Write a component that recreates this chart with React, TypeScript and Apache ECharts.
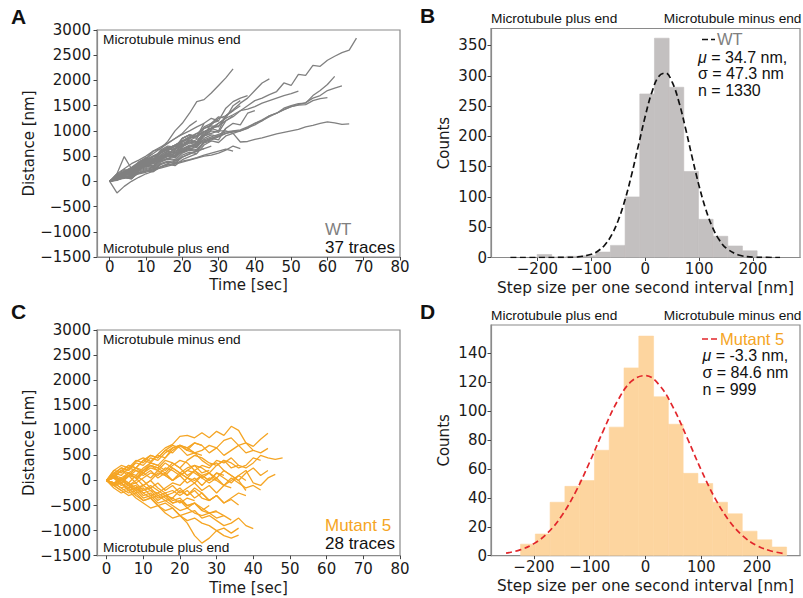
import React, { useEffect, useRef } from 'react';
import * as echarts from 'echarts';

// ---------- Data ----------
const TRACE_STEP_SEC = 2;

// Panel A: WT traces (distance in nm, sampled every TRACE_STEP_SEC seconds)
const WT_TRACES: number[][] = [
  [0, 80, 130, 220, 300, 330, 420, 480, 560, 640, 720, 800, 900, 980, 1060, 1150, 1250, 1320, 1400, 1500, 1600, 1650, 1720, 1780, 1950, 1900, 2120, 2100, 2300, 2280, 2400, 2480, 2550, 2600, 2840],
  [0, 60, 150, 250, 380, 450, 600, 650, 790, 1000, 1150, 1350, 1580, 1620, 1750, 1900, 2050, 2230],
  [0, 90, 170, 240, 350, 400, 480, 560, 650, 720, 800, 880, 950, 1050, 1120, 1250, 1300, 1420, 1550, 1650, 1800, 1950, 2030],
  [0, 60, 110, 200, 260, 300, 380, 420, 500, 560, 600, 680, 720, 780, 820, 880, 950, 980, 1000, 1050, 1150, 1200, 1300, 1350, 1450, 1500, 1540, 1550, 1700, 1800, 1920, 2080],
  [0, 70, 140, 180, 260, 320, 380, 460, 520, 600, 650, 700, 760, 820, 880, 930, 980, 1000, 1020, 1080, 1150, 1220, 1300, 1350, 1420, 1480, 1520, 1560, 1650, 1700, 1800, 1850, 1890],
  [0, 100, 180, 260, 350, 420, 500, 560, 650, 720, 780, 850, 900, 980, 1050, 1100, 1200, 1280, 1400, 1430, 1480, 1550, 1600, 1650, 1700, 1740, 1790],
  [0, 50, 120, 200, 260, 300, 380, 450, 500, 560, 620, 680, 740, 800, 850, 900, 950, 990, 1000, 1060, 1120, 1200, 1280, 1350, 1420, 1480, 1510, 1520, 1600, 1640, 1660],
  [0, 80, 150, 230, 300, 360, 420, 500, 560, 640, 700, 760, 830, 900, 950, 1000, 1000, 950, 780, 790, 830, 860, 900, 940, 970, 1000, 1030, 1080, 1110, 1150, 1180, 1160, 1130, 1140],
  [0, 100, 200, 280, 380, 450, 550, 650, 750, 850, 950, 1100, 1200],
  [0, 70, 160, 130, 330, 400, 380, 560, 650, 620, 850, 920, 880, 1150, 1250, 1200, 1450, 1580, 1650, 1700],
  [0, 90, 150, 250, 200, 400, 450, 420, 600, 700, 680, 850, 950, 900, 1150, 1280, 1250, 1500, 1600],
  [0, 50, 120, 80, 280, 330, 300, 480, 560, 520, 700, 780, 750, 950, 1050, 1000, 1300, 1400, 1500],
  [0, 120, 180, 150, 350, 420, 380, 580, 650, 620, 800, 880, 850, 1050, 1100, 1080, 1300, 1400],
  [0, 60, 140, 110, 260, 340, 300, 460, 540, 500, 680, 760, 720, 920, 1020, 1150, 1250],
  [0, 90, 180, 150, 320, 380, 350, 520, 600, 560, 750, 820, 780, 980, 1050, 1100],
  [0, 40, 60, 100, 150, 180, 230, 260, 300, 340, 380, 420, 460, 500, 520, 560, 620, 700, 650],
  [0, 20, 80, 120, 160, 200, 250, 280, 320, 360, 400, 430, 470, 520, 560, 600, 640, 600],
  [0, 100, 150, 120, 300, 380, 350, 520, 600, 570, 720, 800, 770, 900, 950],
  [0, 130, 230, 200, 380, 470, 430, 620, 700, 680, 850, 920, 880, 1000],
  [0, 60, 200, 150, 350, 450, 400, 600, 650, 620, 780, 850, 900],
  [0, 50, 100, 60, 230, 300, 260, 400, 460, 430, 580, 640, 610, 760, 800],
  [0, 80, 120, 90, 260, 320, 290, 430, 500, 470, 600, 660, 630, 780, 850, 900],
  [0, 30, 80, 50, 180, 230, 200, 330, 380, 350, 480, 540, 600, 650],
  [0, 100, 180, 250, 330, 420, 500, 580, 650, 720, 800, 850],
  [0, 70, 130, 170, 250, 300, 350, 400, 450, 520, 580, 640, 700],
  [0, 60, 160, 120, 280, 330, 300, 450, 520, 490, 640, 700, 670, 850, 920, 890, 1050],
  [0, 120, 200, 260, 350, 430, 500, 560, 620, 700, 750],
  [0, 80, 130, 200, 260, 330, 400, 480, 550, 600],
  [0, 100, 200, 170, 350, 420, 390, 600, 680, 650, 850, 920, 890, 1080, 1150, 1200],
  [0, 150, 250, 350, 420, 500, 600, 680, 760, 850, 930, 1000, 1080, 1150],
  [0, 50, 110, 80, 240, 300, 270, 430, 500, 470, 640, 720, 690, 900, 1000, 970, 1200, 1300],
  [0, 40, 100, 70, 220, 270, 240, 380, 440, 410, 560, 620, 590, 780, 850, 820, 1050, 1150, 1120, 1350, 1400],
  [0, 100, 170, 250, 330, 400, 450, 500],
  [0, 150, 490, 250, 300, 350, 400],
  [0, -230, -100, 0, 80, 150, 200, 280, 350, 400, 480, 550, 600, 650, 700],
  [0, 30, 80, 50, 200, 250, 220, 350, 400, 370, 520, 580, 550, 720, 800, 770, 900, 950, 1000],
  [0, 40, 80, 60, 170, 210, 190, 290, 340, 310, 430, 490, 550],
];

// Panel C: Mutant 5 traces
const M5_TRACES: number[][] = [
  [0, 150, 250, 200, 380, 450, 380, 520, 650, 720, 880, 900, 850, 950, 850, 980, 900, 1080, 1000, 750, 680, 820, 940],
  [0, -80, 50, 150, 100, 250, 350, 300, 450, 600, 700, 650, 550, 600, 700, 650, 800, 850, 700, 750, 600, 550, 640],
  [0, 100, -50, 80, 200, 150, 300, 250, 150, 300, 400, 350, 200, 300, 250, 400, 350, 450, 300, 250, 350, 500, 450, 420, 450],
  [0, -100, -50, 100, 50, -100, 0, 150, 100, 250, 150, 50, 200, 100, 0, 150, 50, -50, 100, 200, -50, -100, 50, 120],
  [0, 50, 200, 100, 250, 200, 350, 300, 200, 350, 250, 100, 200, 50, 150, 0, -100, 50, -50, -150, -100, -190],
  [0, -50, -150, -100, -250, -200, -100, -200, -300, -250, -150, -300, -200, -350, -400, -300, -450, -380, -490],
  [0, -100, -200, -150, -300, -400, -350, -500, -450, -550, -700, -650, -600, -750, -700, -800, -900, -850, -750, -900, -960],
  [0, -150, -250, -200, -350, -450, -550, -500, -650, -750, -700, -850, -1100, -1250, -1150, -1000, -1100, -1150, -1090],
  [0, -50, -150, -250, -200, -350, -300, -450, -400, -500, -600, -550, -650, -700, -650, -750, -700, -790],
  [0, 100, 0, -100, -50, -200, -150, -300, -250, -400, -350, -500, -450, -600, -650, -620, -700],
  [0, 80, 200, 300, 250, 400, 500, 450, 600, 700, 650, 500, 550, 400, 300, 350, 200, 100, 0, -200],
  [0, -100, 0, 150, 50, 200, 300, 250, 400, 350, 250, 400, 500, 450, 350, 300, 400, 250, 300],
  [0, 150, 100, 250, 200, 100, 200, 50, 150, 0, 100, -50, 50, -100, 50, 0],
  [0, -80, 50, -50, 100, 0, -150, -50, -200, -100, -250, -150, -50, -200, -100, -250, -100, -150],
  [0, 100, 0, 150, 250, 150, 300, 200, 350, 250, 150, 250, 300, 150, 200],
  [0, -100, -50, -200, -150, -300, -250, -400, -300, -350, -200, -300, -150, -250, -400, -300, -450, -350, -250, -300],
  [0, -50, 0, -100, -200, -150, -300, -250, -350, -450, -400, -500, -450, -550, -650, -600],
  [0, 50, 0, 100, -50, 50, 150, 100, 250, 200, 100, 200, 300, 250, 150, 300, 400, 350, 250, 300, 450, 400],
  [0, 120, 250, 200, 350, 300, 450, 400, 550, 650, 700, 600, 550, 500],
  [0, 50, -100, -50, -200, -100, 0, -150, -250, -200, -300, -200, -350, -250, -400, -300],
  [0, -50, 50, -100, 0, 150, 50, 200, 100, 0, 150, 50, -50, 100, 0, 150, 100],
  [0, -100, -200, -300, -250, -400, -350, -500, -600, -550, -700, -800, -750, -850, -900, -1000, -950, -1050, -950],
  [0, 200, 150, 300, 250, 400, 350, 500, 450, 650, 700, 600, 750, 700, 550, 650, 500, 600, 700, 550, 600],
  [0, -100, -50, -200, -150, -250, -350, -300, -400, -350, -450, -350, -400],
  [0, 100, 200, 150, 50, 150, 250, 200, 100, 0, 100, 200, 150, 50, -50, 50, -100, 0, 100, 0],
  [0, 50, -50, -150, -100, -250, -200, -350, -300, -450, -400, -550, -450, -600, -500],
  [0, 100, 50, -50, -150, -100, -200, -250, -150, -50, -100, 50, 0, 100, 150, 50, 200, 100, 0, 150, 250, 100, 200],
  [0, 200, 300, 250, 400, 350, 500, 450, 600, 550, 700, 650, 750, 700],
];

// Panel B: WT step-size histogram
const WT_BIN_EDGES = [-200.5, -173.3, -146.1, -118.9, -91.7, -64.5, -37.3, -10.1, 17.1, 44.3, 71.5, 98.7, 125.9, 153.1, 180.3, 207.5, 234.7];
const WT_COUNTS = [5, 1, 2, 3, 9, 20, 100, 270, 362, 281, 142, 63, 35, 19, 11, 1];
const WT_FIT: [number, number][] = [
  [-250, 0], [-200, 0], [-150, 0.15], [-125, 1], [-100, 5.3], [-87.5, 10.8], [-75, 20.7], [-62.5, 36.9],
  [-50, 61.4], [-37.5, 95.2], [-25, 137.6], [-12.5, 185.4], [0, 233.1], [12.5, 273.3], [25, 298.8],
  [37.5, 304.6], [50, 289.5], [62.5, 256.7], [75, 212.2], [87.5, 163.6], [100, 117.6], [112.5, 78.9],
  [125, 49.3], [137.5, 28.8], [150, 15.6], [175, 3.75], [200, 0.7], [225, 0.05], [250, 0],
];

// Panel D: Mutant 5 step-size histogram
const M5_BIN_EDGES = [-224, -197.5, -171, -144.5, -118, -91.5, -65, -38.5, -12, 14.5, 41, 67.5, 94, 120.5, 147, 173.5, 200, 226.5, 253];
const M5_COUNTS = [8, 15, 37, 48, 52, 73, 89, 130, 152, 110, 91, 57, 50, 37, 29, 17, 11, 6];
const M5_FIT: [number, number][] = [
  [-250, 1.78], [-225, 4.03], [-200, 8.36], [-175, 15.9], [-150, 27.8], [-125, 44.4], [-100, 64.9],
  [-75, 87.1], [-50, 107.2], [-25, 120.8], [0, 124.7], [25, 118.0], [50, 102.3], [75, 81.3],
  [100, 59.2], [125, 39.5], [150, 24.2], [175, 13.5], [200, 6.96], [225, 3.27], [250, 1.41],
];

// Tick values
const TIME_TICKS = [0, 10, 20, 30, 40, 50, 60, 70, 80];
const DIST_TICKS = [-1500, -1000, -500, 0, 500, 1000, 1500, 2000, 2500, 3000];
const STEP_TICKS = [-200, -100, 0, 100, 200];
const WT_COUNT_TICKS = [0, 50, 100, 150, 200, 250, 300, 350];
const M5_COUNT_TICKS = [0, 20, 40, 60, 80, 100, 120, 140];

// ---------- Styles ----------
const GRAY_TRACE = '#808080';
const ORANGE = '#f5a524';
const WT_BAR = '#c3c0c0';
const M5_BAR = '#fdd59f';
const RED = '#e2262b';
const SPINE = '#8a8a8a';
const TICK_FONT = 'DejaVu Sans';
const ANNOT_FONT = 'Liberation Sans';

const minus = (v: number) => String(v).replace('-', '\u2212');

function makeXAxis(gridIndex: number, min: number, max: number, ticks: number[], name: string, nameGap: number, margin: number, nameSize: number) {
  return {
    type: 'value', gridIndex, min, max, name, nameLocation: 'middle', nameGap,
    nameTextStyle: { fontFamily: TICK_FONT, fontSize: nameSize, color: '#1a1a1a', lineHeight: 15 },
    axisLine: { show: true, onZero: false, lineStyle: { color: SPINE, width: 1.2 } },
    axisTick: { show: true, length: 3.5, lineStyle: { color: '#444', width: 1 }, customValues: ticks },
    axisLabel: { customValues: ticks, formatter: minus, fontFamily: TICK_FONT, fontSize: 15, color: '#1a1a1a', margin, lineHeight: 15 },
    splitLine: { show: false },
  };
}
function makeYAxis(gridIndex: number, min: number, max: number, ticks: number[], name: string, nameGap: number, margin: number) {
  return {
    type: 'value', gridIndex, min, max, name, nameLocation: 'middle', nameGap,
    nameTextStyle: { fontFamily: TICK_FONT, fontSize: 15, color: '#1a1a1a' },
    axisLine: { show: true, onZero: false, lineStyle: { color: SPINE, width: 1.2 } },
    axisTick: { show: true, length: 3.5, lineStyle: { color: '#444', width: 1 }, customValues: ticks },
    axisLabel: { customValues: ticks, formatter: minus, fontFamily: TICK_FONT, fontSize: 15, color: '#1a1a1a', margin },
    splitLine: { show: false },
  };
}

function histSeries(axisIndex: number, edges: number[], counts: number[], color: string) {
  return {
    type: 'custom', xAxisIndex: axisIndex, yAxisIndex: axisIndex, silent: true, clip: true, z: 2,
    data: counts.map((c, i) => [edges[i], edges[i + 1], c]),
    encode: { x: [0, 1], y: 2 },
    renderItem: (_p: any, api: any) => {
      const p0 = api.coord([api.value(0), api.value(2)]);
      const p1 = api.coord([api.value(1), 0]);
      return { type: 'rect', shape: { x: p0[0], y: p0[1], width: p1[0] - p0[0], height: p1[1] - p0[1] }, style: { fill: color, stroke: color, lineWidth: 0.6 } };
    },
  };
}

function fitSeries(axisIndex: number, data: [number, number][], color: string) {
  return {
    type: 'line', xAxisIndex: axisIndex, yAxisIndex: axisIndex, data, smooth: 0.4, showSymbol: false, silent: true, z: 5,
    lineStyle: { color, width: 1.7, type: [6, 3.5] },
  };
}

function traceSeries(axisIndex: number, traces: number[][], color: string) {
  return traces.map((tr) => ({
    type: 'line', xAxisIndex: axisIndex, yAxisIndex: axisIndex, silent: true, showSymbol: false,
    data: tr.map((v, i) => [i * TRACE_STEP_SEC, v]),
    lineStyle: { color, width: 1.3 },
  }));
}

const txt = (x: number, y: number, text: string, size: number, color = '#111', align = 'left', weight = 'normal') => ({
  type: 'text', x, y, silent: true,
  style: { text, fill: color, font: `${weight} ${size}px "${ANNOT_FONT}"`, lineHeight: Math.round(size * 0.9), textAlign: align, textVerticalAlign: 'middle', align, verticalAlign: 'middle' },
});

const muText = (x: number, y: number, value: string) => ({
  type: 'text', x, y, silent: true,
  style: {
    text: `{i|\u03bc}{n| = ${value}}`, textAlign: 'left', textVerticalAlign: 'middle', align: 'left', verticalAlign: 'middle',
    rich: {
      i: { fontFamily: ANNOT_FONT, fontSize: 16, fontStyle: 'italic', fill: '#111', lineHeight: 14 },
      n: { fontFamily: ANNOT_FONT, fontSize: 16, fill: '#111', lineHeight: 14 },
    },
  },
});

const dashSeg = (x1: number, x2: number, y: number, color: string) => ({
  type: 'line', silent: true, shape: { x1, y1: y, x2, y2: y }, style: { stroke: color, lineWidth: 1.7, lineDash: [6, 3] },
});

export default function App() {
  const ref = useRef<HTMLDivElement>(null);
  useEffect(() => {
    if (!ref.current) return;
    const chart = echarts.init(ref.current, undefined, { renderer: 'svg' });
    const gridBase = { show: true, borderColor: SPINE, borderWidth: 1.2, backgroundColor: 'transparent', containLabel: false, outerBoundsMode: 'none' };
    chart.setOption({
      animation: false,
      backgroundColor: '#ffffff',
      grid: [
        { ...gridBase, left: 97, top: 30, width: 303, height: 227 },
        { ...gridBase, left: 491, top: 28.5, width: 309, height: 229 },
        { ...gridBase, left: 97, top: 330, width: 303, height: 225.7 },
        { ...gridBase, left: 491, top: 325, width: 309, height: 230.7 },
      ],
      xAxis: [
        makeXAxis(0, -3.5, 80, TIME_TICKS, 'Time [sec]', 20, 2, 15),
        makeXAxis(1, -286, 287, STEP_TICKS, 'Step size per one second interval [nm]', 23, 4, 15.3),
        makeXAxis(2, -2.6, 80, TIME_TICKS, 'Time [sec]', 24.5, 6, 15),
        makeXAxis(3, -277, 277, STEP_TICKS, 'Step size per one second interval [nm]', 23, 4, 15.3),
      ],
      yAxis: [
        makeYAxis(0, -1500, 3000, DIST_TICKS, 'Distance [nm]', 60, 6),
        makeYAxis(1, 0, 378, WT_COUNT_TICKS, 'Counts', 40, 4),
        makeYAxis(2, -1500, 3000, DIST_TICKS, 'Distance [nm]', 60, 6),
        makeYAxis(3, 0, 159.7, M5_COUNT_TICKS, 'Counts', 40, 4),
      ],
      series: [
        ...traceSeries(0, WT_TRACES, GRAY_TRACE),
        histSeries(1, WT_BIN_EDGES, WT_COUNTS, WT_BAR),
        fitSeries(1, WT_FIT, '#111111'),
        ...traceSeries(2, M5_TRACES, ORANGE),
        histSeries(3, M5_BIN_EDGES, M5_COUNTS, M5_BAR),
        fitSeries(3, M5_FIT, RED),
      ],
      graphic: [
        txt(11, 16, 'A', 21, '#111', 'left', 'bold'),
        txt(420, 15, 'B', 21, '#111', 'left', 'bold'),
        txt(11, 311, 'C', 21, '#111', 'left', 'bold'),
        txt(420, 311, 'D', 21, '#111', 'left', 'bold'),
        // Panel A annotations
        txt(103, 39, 'Microtubule minus end', 13.7),
        txt(103, 248, 'Microtubule plus end', 13.7),
        txt(325, 229, 'WT', 17, '#808080'),
        txt(325, 247, '37 traces', 17),
        // Panel C annotations
        txt(103, 339, 'Microtubule minus end', 13.7),
        txt(103, 547, 'Microtubule plus end', 13.7),
        txt(325, 525.5, 'Mutant 5', 17, ORANGE),
        txt(325, 543.5, '28 traces', 17),
        // Panel B header + legend
        txt(491, 18, 'Microtubule plus end', 13.7),
        txt(801.5, 18, 'Microtubule minus end', 13.7, '#111', 'right'),
        dashSeg(702, 715, 39.5, '#111111'),
        txt(717, 39, 'WT', 16.5, '#808080'),
        muText(698, 57, '34.7 nm,'),
        txt(698, 73.5, '\u03c3 = 47.3 nm', 16),
        txt(698, 90, 'n = 1330', 16),
        // Panel D header + legend
        txt(491, 315, 'Microtubule plus end', 13.7),
        txt(801.5, 315, 'Microtubule minus end', 13.7, '#111', 'right'),
        dashSeg(702, 717, 339, RED),
        txt(720, 339, 'Mutant 5', 16.5, ORANGE),
        muText(702.5, 355.7, '-3.3 nm,'),
        txt(702.5, 372, '\u03c3 = 84.6 nm', 16),
        txt(702.5, 389, 'n = 999', 16),
      ],
    });
    return () => chart.dispose();
  }, []);
  return <div ref={ref} style={{ position: 'absolute', left: 0, top: 0, width: 803, height: 598, background: '#fff' }} />;
}
